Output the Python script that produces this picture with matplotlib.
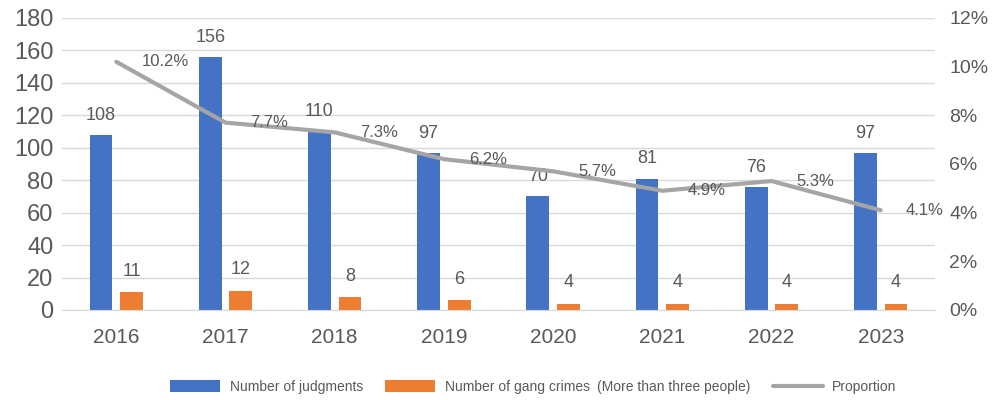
import matplotlib
matplotlib.use("Agg")
import matplotlib.pyplot as plt
import numpy as np
from matplotlib.ticker import FuncFormatter

years = ["2016", "2017", "2018", "2019", "2020", "2021", "2022", "2023"]
judgments = [108, 156, 110, 97, 70, 81, 76, 97]
gang_crimes = [11, 12, 8, 6, 4, 4, 4, 4]
proportion = [10.2, 7.7, 7.3, 6.2, 5.7, 4.9, 5.3, 4.1]

BLUE = "#4472C4"
ORANGE = "#ED7D31"
GRAY = "#A5A5A5"
TEXT = "#595959"

plt.rcParams.update({"font.family": ["Liberation Sans", "DejaVu Sans"]})

fig = plt.figure(figsize=(9.95, 4.0), dpi=100)
ax = fig.add_axes([0.062, 0.225, 0.878, 0.73])
ax2 = ax.twinx()

x = np.arange(len(years))
w = 0.21
b1 = ax.bar(x - 0.14, judgments, w, color=BLUE, zorder=2, label="Number of judgments")
b2 = ax.bar(x + 0.14, gang_crimes, w, color=ORANGE, zorder=2,
            label="Number of gang crimes\u2002(More than three people)")

# value labels above the bars
for rect, v in zip(b1, judgments):
    ax.annotate(str(v), (rect.get_x() + rect.get_width() / 2, v), xytext=(0, 8),
                textcoords="offset points", ha="center", va="bottom",
                fontsize=13, color=TEXT)
for rect, v in zip(b2, gang_crimes):
    ax.annotate(str(v), (rect.get_x() + rect.get_width() / 2, v), xytext=(0, 9),
                textcoords="offset points", ha="center", va="bottom",
                fontsize=13, color=TEXT)

line, = ax2.plot(x, proportion, color=GRAY, lw=3, solid_joinstyle="round",
                 solid_capstyle="round", zorder=3, label="Proportion")
for xi, p in zip(x, proportion):
    ax2.annotate(f"{p}%", (xi, p), xytext=(18, 0), textcoords="offset points",
                 ha="left", va="center", fontsize=12, color=TEXT)

ax.set_xlim(-0.5, len(years) - 0.5)
ax.set_ylim(0, 180)
ax.set_yticks(range(0, 181, 20))
ax2.set_ylim(0, 12)
ax2.set_yticks(range(0, 13, 2))
ax2.yaxis.set_major_formatter(FuncFormatter(lambda v, _: f"{v:.0f}%"))

ax.set_xticks(x)
ax.set_xticklabels(years)
ax.grid(axis="y", color="#D9D9D9", lw=1, zorder=0)
ax.set_axisbelow(True)

for a in (ax, ax2):
    for s in a.spines.values():
        s.set_visible(False)
    a.tick_params(length=0, colors=TEXT)
ax.spines["bottom"].set_visible(True)
ax.spines["bottom"].set_color("#D9D9D9")
ax.tick_params(axis="x", pad=13, labelsize=15)
ax.tick_params(axis="y", pad=6, labelsize=17)
ax2.tick_params(axis="y", pad=10, labelsize=14)

fig.legend(handles=[b1, b2, line], loc="center", bbox_to_anchor=(0.536, 0.033),
           ncol=3, frameon=False, fontsize=10, handlelength=3.6, handleheight=0.9,
           handletextpad=0.7, columnspacing=1.6, labelcolor=TEXT)

fig.savefig("out.png", dpi=100)
